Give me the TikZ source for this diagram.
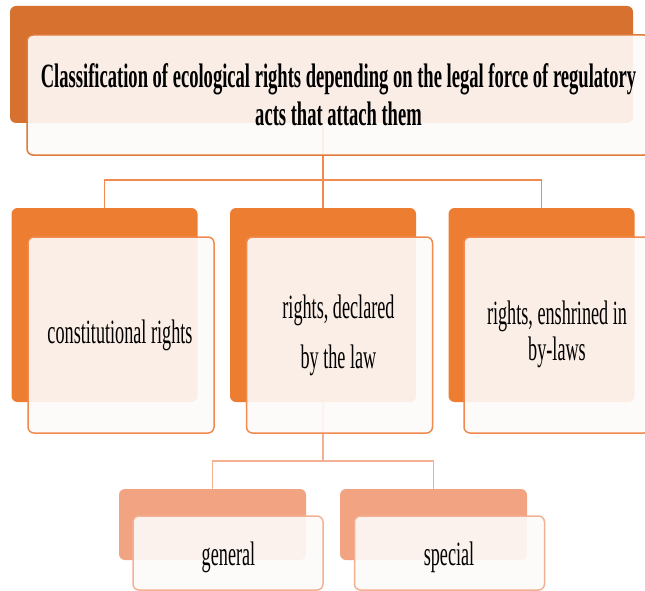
\documentclass[tikz,border=0pt]{standalone}
\usepackage{fontspec}
\setmainfont{Liberation Serif}
\newfontfamily\condfont[FakeStretch=0.535]{Liberation Serif}
\newfontfamily\condbold[FakeStretch=0.546]{Liberation Serif Bold}
\definecolor{topback}{HTML}{D77130}
\definecolor{midback}{HTML}{ED7D31}
\definecolor{lowback}{HTML}{F2A482}
\definecolor{topline}{HTML}{E07A38}
\definecolor{midline}{HTML}{F08A4E}
\definecolor{lowline}{HTML}{F4B093}
\definecolor{frontfill}{HTML}{FDFBFA}
\tikzset{
  box/.style={rectangle, rounded corners=6pt, inner sep=0pt, outer sep=0pt},
  backbox/.style={box, draw=none},
  frontbox/.style={box, fill=frontfill, fill opacity=0.9, line width=1.5pt},
  conn/.style={line width=1.5pt},
  txt/.style={anchor=base, inner sep=0pt, font=\condfont\fontsize{34}{38}\selectfont},
  ttl/.style={anchor=base, inner sep=0pt, font=\condbold\fontsize{34}{38}\selectfont},
}
\begin{document}
\begin{tikzpicture}[x=1pt, y=-1pt]
\clip (0,0) rectangle (645,591);
\fill[white] (0,0) rectangle (645,591);
% back boxes
\node[backbox, fill=topback, minimum width=623pt, minimum height=117pt] (tb) at (321.5,64.5) {};
\node[backbox, fill=midback, minimum width=186pt, minimum height=194pt] (m1b) at (104.5,305) {};
\node[backbox, fill=midback, minimum width=186pt, minimum height=194pt] (m2b) at (323,305) {};
\node[backbox, fill=midback, minimum width=186pt, minimum height=194pt] (m3b) at (541.5,305) {};
\node[backbox, fill=lowback, minimum width=187pt, minimum height=71pt] (l1b) at (212.5,524.5) {};
\node[backbox, fill=lowback, minimum width=187pt, minimum height=71pt] (l2b) at (433.5,524.5) {};
% connectors
\coordinate (j1) at (323,180);
\coordinate (j2) at (323,461);
\draw[conn, midline] (tb.south -| j1) -- (j1);
\draw[conn, midline] (m1b.north) |- (j1) -| (m3b.north);
\draw[conn, midline] (j1) -- (m2b.north);
\draw[conn, lowline] (m2b.south) -- (j2);
\draw[conn, lowline] (l1b.north) |- (j2) -| (l2b.north);
% front boxes
\node[frontbox, draw=topline, minimum width=623pt, minimum height=120pt] (tf) at (338.5,95) {};
\node[frontbox, draw=midline, minimum width=186pt, minimum height=196pt] (m1f) at (121,335) {};
\node[frontbox, draw=midline, minimum width=186pt, minimum height=196pt] (m2f) at (339.5,335) {};
\node[frontbox, draw=midline, minimum width=186pt, minimum height=196pt] (m3f) at (557,335) {};
\node[frontbox, draw=lowline, minimum width=190pt, minimum height=74pt] (l1f) at (228,553) {};
\node[frontbox, draw=lowline, minimum width=190pt, minimum height=74pt] (l2f) at (449.5,553) {};
% texts
\node[ttl] (t1) at (338.5,88) {Classification of ecological rights depending on the legal force of regulatory};
\node[ttl] (t2) at (338.5,126) {acts that attach them};
\node[txt] (c1) at (120,343) {constitutional rights};
\node[txt] (d1) at (338.5,318) {rights, declared};
\node[txt] (d2) at (338.5,368) {by the law};
\node[txt] (e1) at (557,324) {rights, enshrined in};
\node[txt] (e2) at (557,360) {by-laws};
\node[txt] (g1) at (228.5,565) {general};
\node[txt] (s1) at (449,565) {special};
\end{tikzpicture}
\end{document}
